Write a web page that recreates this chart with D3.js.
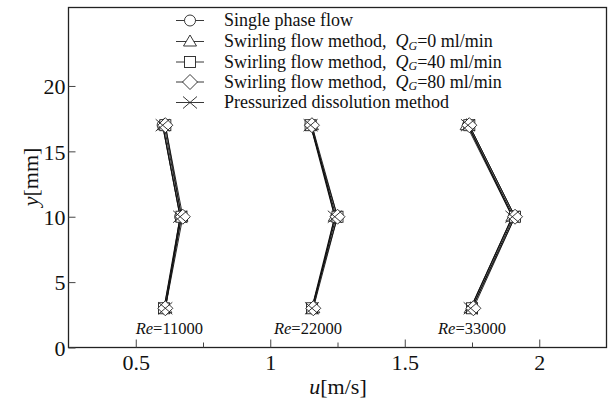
<!DOCTYPE html>
<html><head><meta charset="utf-8">
<script src="https://cdn.jsdelivr.net/npm/d3@7"></script>
<style>body{margin:0;background:#fff}svg{display:block}</style>
</head><body><svg id="c" width="608" height="400"></svg>
<script>
const yPositions = [3, 10, 17];
const reLabels = ["11000", "22000", "33000"];
const xTicks = [0.5, 1, 1.5, 2];
const xMinorTicks = [0.75, 1.25, 1.75];
const yTicks = [0, 5, 10, 15, 20];
const seriesNames = ["Single phase flow", "Swirling flow method,  Q=0 ml/min", "Swirling flow method,  Q=40 ml/min", "Swirling flow method,  Q=80 ml/min", "Pressurized dissolution method"];
const seriesSymbols = ["circle", "triangle", "square", "diamond", "cross"];
const qgValues = [null, "0", "40", "80", null];
// values: per series, per Re group, u at y = 3, 10, 17
const singlePhase = [[0.605, 0.665, 0.600], [1.155, 1.245, 1.150], [1.750, 1.905, 1.735]];
const swirlQ0 =    [[0.610, 0.670, 0.605], [1.160, 1.240, 1.155], [1.745, 1.900, 1.730]];
const swirlQ40 =   [[0.605, 0.670, 0.610], [1.155, 1.250, 1.150], [1.750, 1.910, 1.740]];
const swirlQ80 =   [[0.610, 0.675, 0.610], [1.160, 1.250, 1.155], [1.755, 1.910, 1.740]];
const pressurized =[[0.610, 0.665, 0.600], [1.155, 1.240, 1.150], [1.745, 1.900, 1.735]];
const allSeries = [singlePhase, swirlQ0, swirlQ40, swirlQ80, pressurized];

const FONT = "'Liberation Serif', 'DejaVu Serif', 'Times New Roman', serif";
const svg = d3.select("#c").attr("font-family", FONT);
const L = 68.5, R = 606.5, T = 7.5, B = 347.5;
const x = d3.scaleLinear().domain([0.25, 2.25]).range([L, R]);
const y = d3.scaleLinear().domain([0, 26]).range([B, T]);

// frame
svg.append("rect").attr("x", L).attr("y", T).attr("width", R - L).attr("height", B - T)
  .attr("fill", "none").attr("stroke", "#222").attr("stroke-width", 1.3);

// x axis ticks (inward)
const gx = svg.append("g").attr("transform", `translate(0,${B})`)
  .call(d3.axisBottom(x).tickValues(xTicks).tickSize(-8).tickFormat(d3.format("")));
gx.attr("font-family", FONT);
gx.select(".domain").remove();
gx.selectAll("line").attr("stroke", "#444");
gx.selectAll("text").attr("font-size", 22).attr("fill", "#111").attr("dy", "0.95em").attr("y", 2);
svg.append("g").attr("transform", `translate(0,${B})`)
  .call(d3.axisBottom(x).tickValues(xMinorTicks).tickSize(-5).tickFormat(""))
  .call(g => { g.select(".domain").remove(); g.selectAll("line").attr("stroke", "#444"); });

// y axis ticks (inward)
const gy = svg.append("g").attr("transform", `translate(${L},0)`)
  .call(d3.axisLeft(y).tickValues(yTicks).tickSize(-7));
gy.attr("font-family", FONT);
gy.select(".domain").remove();
gy.selectAll("line").attr("stroke", "#444");
gy.selectAll("text").attr("font-size", 22).attr("fill", "#111").attr("x", -3).attr("dy", "0.35em");

// axis titles
const xt = svg.append("text").attr("x", 338).attr("y", 394).attr("text-anchor", "middle").attr("font-size", 22).attr("fill", "#111");
xt.append("tspan").attr("font-style", "italic").text("u");
xt.append("tspan").text("[m/s]");
const yt = svg.append("text").attr("transform", "translate(38,177) rotate(-90)").attr("text-anchor", "middle").attr("font-size", 22).attr("fill", "#111");
yt.append("tspan").attr("font-style", "italic").text("y");
yt.append("tspan").text("[mm]");

// symbol drawing
function drawSymbol(g, type, cx, cy) {
  const s = g.append("g").attr("transform", `translate(${cx},${cy})`);
  const st = { fill: "#fff", stroke: "#222", "stroke-width": 0.9 };
  let el;
  if (type === "circle") el = s.append("circle").attr("r", 5.5);
  else if (type === "triangle") el = s.append("path").attr("d", "M0,-6.5L6.5,4.5L-6.5,4.5Z");
  else if (type === "square") el = s.append("rect").attr("x", -5.5).attr("y", -5.5).attr("width", 11).attr("height", 11);
  else if (type === "diamond") el = s.append("path").attr("d", "M0,-7.5L7.5,0L0,7.5L-7.5,0Z");
  else if (type === "cross") { s.append("path").attr("d", "M-7,-6L7,6M-7,6L7,-6").attr("stroke", "#222").attr("stroke-width", 0.9).attr("fill", "none"); return; }
  for (const k in st) el.attr(k, st[k]);
}

const line = d3.line().x(d => x(d[0])).y(d => y(d[1]));
const widths = [1.0, 0.9, 0.9, 0.9, 1.2];
allSeries.forEach((ser, si) => {
  ser.forEach(grp => {
    const pts = grp.map((u, i) => [u, yPositions[i]]);
    svg.append("path").attr("d", line(pts)).attr("fill", "none").attr("stroke", "#111").attr("stroke-width", widths[si]);
  });
});
allSeries.forEach((ser, si) => {
  const g = svg.append("g");
  ser.forEach(grp => grp.forEach((u, i) => drawSymbol(g, seriesSymbols[si], x(u), y(yPositions[i]))));
});

// Re labels
const reX = [0.625, 1.14, 1.75];
reLabels.forEach((r, i) => {
  const t = svg.append("text").attr("x", x(reX[i])).attr("y", 334).attr("text-anchor", "middle").attr("font-size", 16.5).attr("fill", "#111");
  t.append("tspan").attr("font-style", "italic").text("Re");
  t.append("tspan").text("=" + r);
});

// legend
const legY = [20.5, 41.5, 62, 82, 102.5];
seriesNames.forEach((nm, i) => {
  const g = svg.append("g");
  g.append("line").attr("x1", 176).attr("x2", 204).attr("y1", legY[i]).attr("y2", legY[i]).attr("stroke", "#222").attr("stroke-width", 0.9);
  drawSymbol(g, seriesSymbols[i], 190, legY[i]);
  const t = g.append("text").attr("x", 224).attr("y", legY[i]).attr("dy", "0.33em").attr("font-size", 18).attr("fill", "#111");
  if (qgValues[i] === null) t.text(nm);
  else {
    t.append("tspan").text("Swirling flow method,\u00A0\u00A0");
    t.append("tspan").attr("font-style", "italic").text("Q");
    t.append("tspan").attr("font-style", "italic").attr("font-size", 12).attr("dy", 2.5).text("G");
    t.append("tspan").attr("dy", -2.5).text("=" + qgValues[i] + " ml/min");
  }
});
</script></body></html>
